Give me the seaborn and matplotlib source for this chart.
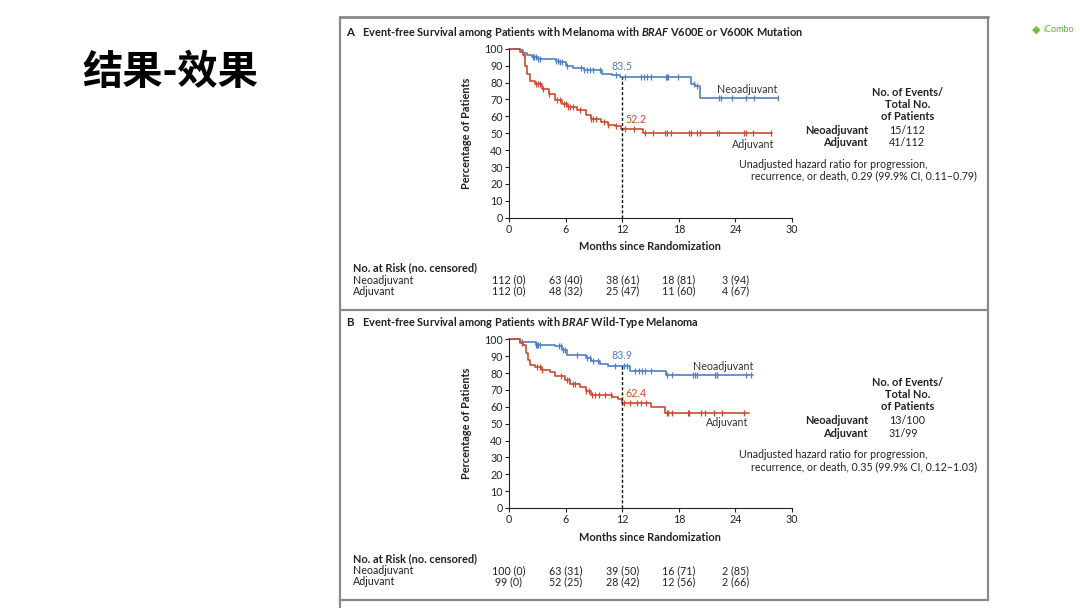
import numpy as np
import pandas as pd
import matplotlib
matplotlib.use("Agg")
import matplotlib.pyplot as plt
import seaborn as sns
from matplotlib.lines import Line2D

# ---- data ----
months_ticks = [0, 6, 12, 18, 24, 30]
pct_ticks = [0, 10, 20, 30, 40, 50, 60, 70, 80, 90, 100]

# panel A: BRAF V600E / V600K
a_neo_t = [0, 1.2, 1.5, 1.9, 2.4, 3.1, 5.0, 5.3, 6.0, 6.8, 7.9, 9.9, 10.9, 11.8, 19.3, 19.7, 20.2]
a_neo_s = [100, 99, 97.5, 96, 95, 94, 93, 92, 90, 88.6, 87.2, 85.2, 84.2, 83.5, 79.3, 77.7, 70.8]
a_neo_end = 28.5
a_adj_t = [0, 1.2, 1.5, 1.7, 1.9, 2.2, 2.8, 3.5, 4.2, 4.9, 5.6, 6.3, 7.2, 8.2, 8.7, 9.8, 10.5, 11.2, 11.9, 14.2]
a_adj_s = [100, 98, 96, 90, 85, 81, 79, 76, 73, 69.5, 67.5, 65.5, 63.5, 60.6, 58.2, 56.6, 55, 54, 52.2, 50]
a_adj_end = 27.9
a_neo_cens = [2.5, 2.7, 2.9, 3.1, 3.3, 5.0, 5.2, 5.4, 5.6, 6.2, 7.6, 8.0, 8.3, 8.6, 8.9, 9.6, 11.3,
              12.3, 14.0, 14.3, 14.6, 15.1, 16.6, 16.8, 16.9, 17.9, 19.6, 19.9, 22.3, 22.5, 23.6,
              25.1, 26.0, 28.5]
a_adj_cens = [1.6, 2.9, 3.1, 3.3, 3.6, 4.2, 5.1, 5.4, 5.8, 6.0, 6.3, 6.5, 6.8, 7.5, 8.7, 8.9, 9.2,
              10.1, 10.5, 11.3, 12.3, 13.2, 14.4, 15.3, 16.5, 16.8, 17.2, 19.1, 19.3, 19.9, 20.3,
              22.1, 22.3, 24.9, 25.1, 25.9, 27.8]
a_risk_neo = ["112 (0)", "63 (40)", "38 (61)", "18 (81)", "3 (94)"]
a_risk_adj = ["112 (0)", "48 (32)", "25 (47)", "11 (60)", "4 (67)"]
a_events = ["15/112", "41/112"]
a_hr = "recurrence, or death, 0.29 (99.9% CI, 0.11\u20130.79)"
a_mark = [83.5, 52.2]

# panel B: BRAF wild-type
b_neo_t = [0, 1.2, 2.9, 4.9, 5.6, 6.1, 8.2, 8.7, 9.6, 10.5, 11.8, 12.8, 16.6]
b_neo_s = [100, 98.6, 96.8, 95.8, 93.8, 90.9, 88.9, 87, 85.4, 84.2, 83.9, 81.5, 78.8]
b_neo_end = 25.9
b_adj_t = [0, 1.2, 1.5, 1.8, 2.0, 2.2, 2.8, 3.5, 4.3, 4.9, 5.9, 6.5, 7.5, 8.2, 8.7, 10.9, 11.6, 11.95, 15.0, 16.5]
b_adj_s = [100, 98, 96.8, 91.9, 87.9, 85, 83.4, 82, 80.4, 78.1, 76, 73.7, 71.7, 69.2, 67.2, 65.8, 64.6, 62.4, 59.9, 56.3]
b_adj_end = 25.4
b_neo_cens = [1.4, 2.9, 3.0, 3.1, 3.3, 5.3, 5.5, 5.7, 5.9, 7.2, 8.3, 8.6, 8.9, 9.4, 11.2, 12.2, 12.5,
              13.4, 13.8, 14.1, 14.4, 15.1, 16.8, 17.3, 19.5, 19.7, 19.9, 21.8, 22.0, 22.1, 25.1, 25.7]
b_adj_cens = [1.4, 3.0, 3.3, 3.5, 5.5, 6.1, 6.4, 6.8, 7.0, 8.2, 8.5, 8.8, 9.1, 9.5, 10.2, 10.8, 12.2,
              12.8, 13.6, 14.0, 14.5, 16.7, 16.9, 17.3, 19.0, 19.1, 20.4, 20.8, 21.7, 22.6, 24.9]
b_risk_neo = ["100 (0)", "63 (31)", "39 (50)", "16 (71)", "2 (85)"]
b_risk_adj = ["99 (0)", "52 (25)", "28 (42)", "12 (56)", "2 (66)"]
b_events = ["13/100", "31/99"]
b_hr = "recurrence, or death, 0.35 (99.9% CI, 0.12\u20131.03)"
b_mark = [83.9, 62.4]

BLUE = "#4f80c4"
RED = "#cc4b30"
TXT = "#222222"
FS = 7.7      # regular text
FSB = 7.9     # bold text

sns.set_style("ticks")
plt.rcParams["font.family"] = ["Lato", "DejaVu Sans"]
plt.rcParams["mathtext.fontset"] = "custom"
plt.rcParams["mathtext.bfit"] = "Lato:italic:bold"
plt.rcParams["mathtext.it"] = "Lato:italic"
plt.rcParams["mathtext.rm"] = "Lato"

fig = plt.figure(figsize=(10.8, 6.08), dpi=100)
fig.patch.set_facecolor("white")


def fx(x):
    return x / 1080


def fy(y):
    return 1 - y / 608


def txt(x, y, s, **kw):
    kw.setdefault("color", TXT)
    kw.setdefault("fontsize", FS)
    kw.setdefault("va", "center")
    fig.text(fx(x), fy(y), s, **kw)


def curve_frame(t, s, end):
    return pd.DataFrame({"month": list(t) + [end], "pct": list(s) + [s[-1]]})


def cens_frame(t, s, cens):
    idx = np.searchsorted(t, cens, side="right") - 1
    return pd.DataFrame({"month": cens, "pct": np.array(s)[idx]})


def km_panel(top_px, bot_px, neo, adj, marks, neo_lab, adj_lab):
    ax = fig.add_axes([fx(509), fy(bot_px), 283 / 1080, (bot_px - top_px) / 608])
    for (t, s, end, cens), col in [(neo, BLUE), (adj, RED)]:
        sns.lineplot(data=curve_frame(t, s, end), x="month", y="pct", ax=ax, color=col,
                     drawstyle="steps-post", estimator=None, sort=False, lw=1.2, clip_on=False)
        sns.scatterplot(data=cens_frame(t, s, cens), x="month", y="pct", ax=ax, color=col,
                        marker="|", s=24, linewidth=0.9, clip_on=False)
    ax.vlines(12, 0, marks[0], colors="#111111", linestyles=(0, (2.2, 1.5)), lw=1)
    ax.text(12, marks[0] + 3, f"{marks[0]}", color=BLUE, fontsize=FS, ha="center", va="bottom")
    ax.text(12.3, marks[1] + 2.5, f"{marks[1]}", color=RED, fontsize=FS, ha="left", va="bottom")
    ax.text(neo_lab[0], neo_lab[1], "Neoadjuvant", color="#333333", fontsize=FS, ha="center", va="center")
    ax.text(adj_lab[0], adj_lab[1], "Adjuvant", color="#333333", fontsize=FS, ha="center", va="center")
    ax.set_xlim(0, 30)
    ax.set_ylim(0, 100)
    ax.set_xticks(months_ticks)
    ax.set_yticks(pct_ticks)
    ax.tick_params(labelsize=FS, length=3, width=0.8, pad=1.5, colors="#222222")
    ax.set_xlabel("")
    ax.set_ylabel("")
    for side in ["top", "right"]:
        ax.spines[side].set_visible(False)
    for side in ["left", "bottom"]:
        ax.spines[side].set_linewidth(0.8)
        ax.spines[side].set_color("#222222")
    ax.patch.set_alpha(0)
    return ax


# panel A
km_panel(48.7, 217.7, (a_neo_t, a_neo_s, a_neo_end, a_neo_cens),
         (a_adj_t, a_adj_s, a_adj_end, a_adj_cens), a_mark, (25.3, 76), (25.9, 43.6))
# panel B
km_panel(339.3, 508, (b_neo_t, b_neo_s, b_neo_end, b_neo_cens),
         (b_adj_t, b_adj_s, b_adj_end, b_adj_cens), b_mark, (22.7, 83.6), (23.1, 50.4))

tick_px = [509 + m * 283 / 30 for m in months_ticks[:5]]

for dy, risk_neo, risk_adj, events, hr in [
        (0, a_risk_neo, a_risk_adj, a_events, a_hr),
        (290.5, b_risk_neo, b_risk_adj, b_events, b_hr)]:
    txt(467, 133 + dy, "Percentage of Patients", rotation=90, ha="center", fontweight="bold", fontsize=FSB)
    txt(650, 247 + dy, "Months since Randomization", ha="center", fontweight="bold", fontsize=FSB)
    txt(353, 268 + dy, "No. at Risk (no. censored)", ha="left", fontweight="bold", fontsize=FSB)
    txt(353, 280 + dy, "Neoadjuvant", ha="left")
    txt(353, 291 + dy, "Adjuvant", ha="left")
    for x, a, b in zip(tick_px, risk_neo, risk_adj):
        txt(x, 280 + dy, a, ha="center")
        txt(x, 291 + dy, b, ha="center")
    txt(908, 92 + dy, "No. of Events/", ha="center", fontweight="bold", fontsize=FSB)
    txt(908, 104 + dy, "Total No.", ha="center", fontweight="bold", fontsize=FSB)
    txt(908, 116 + dy, "of Patients", ha="center", fontweight="bold", fontsize=FSB)
    txt(868, 130 + dy, "Neoadjuvant", ha="right", fontweight="bold", fontsize=FSB)
    txt(868, 143 + dy, "Adjuvant", ha="right", fontweight="bold", fontsize=FSB)
    txt(889, 130 + dy, events[0], ha="left")
    txt(889, 143 + dy, events[1], ha="left")
    txt(739, 164 + dy, "Unadjusted hazard ratio for progression,", ha="left")
    txt(751, 176 + dy, hr, ha="left")

# panel titles
txt(346, 32, "A", ha="left", fontweight="bold", fontsize=8.3)
fig.text(fx(362), fy(32), "Event-free Survival among Patients with Melanoma with $\\mathbfit{BRAF}$ V600E or V600K Mutation",
         ha="left", va="center", fontsize=FSB, fontweight="bold", color=TXT)
txt(346, 323, "B", ha="left", fontweight="bold", fontsize=8.3)
fig.text(fx(362), fy(323), "Event-free Survival among Patients with $\\mathbfit{BRAF}$ Wild-Type Melanoma",
         ha="left", va="center", fontsize=FSB, fontweight="bold", color=TXT)

# figure frame lines
frame_col = "#8a8a8a"
for (x0, y0, x1, y1, w) in [(340, 17, 988, 17, 2.0), (340, 17, 340, 608, 1.6), (988, 17, 988, 600, 1.6),
                            (340, 310, 988, 310, 1.6), (340, 600, 988, 600, 1.6)]:
    fig.add_artist(Line2D([fx(x0), fx(x1)], [fy(y0), fy(y1)], color=frame_col, lw=w))

# slide title and logo
fig.text(fx(82), fy(72), "结果-效果", ha="left", va="center", fontsize=29, fontweight="bold",
         family=["Noto Sans CJK SC", "DejaVu Sans"], color="black")
fig.text(fx(1043), fy(29), "iCombo", ha="left", va="center", fontsize=6.5, color="#5cb531")
fig.text(fx(1036), fy(29), "\u25c6", ha="center", va="center", fontsize=8, color="#6cc03a")

fig.savefig("out.png", dpi=100, facecolor="white")
